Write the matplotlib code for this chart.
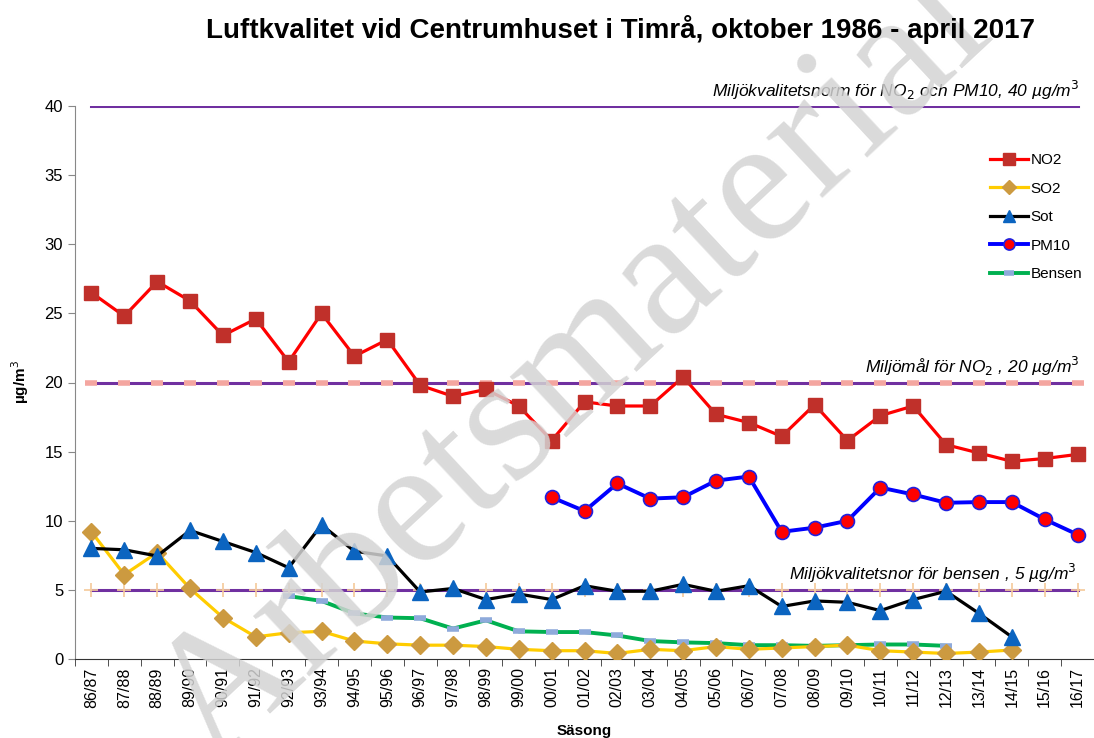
import matplotlib
matplotlib.use("Agg")
import matplotlib.pyplot as plt
import numpy as np

plt.rcParams['font.family'] = ['Liberation Sans', 'DejaVu Sans']

seasons = ["86/87", "87/88", "88/89", "89/90", "90/91", "91/92", "92/93", "93/94", "94/95", "95/96",
           "96/97", "97/98", "98/99", "99/00", "00/01", "01/02", "02/03", "03/04", "04/05", "05/06",
           "06/07", "07/08", "08/09", "09/10", "10/11", "11/12", "12/13", "13/14", "14/15", "15/16", "16/17"]

no2 = [26.5, 24.8, 27.3, 25.9, 23.4, 24.6, 21.5, 25.0, 21.9, 23.1,
       19.8, 19.0, 19.5, 18.3, 15.8, 18.6, 18.3, 18.3, 20.4, 17.7,
       17.1, 16.1, 18.4, 15.8, 17.6, 18.3, 15.5, 14.9, 14.3, 14.5, 14.8]
so2 = [9.2, 6.1, 7.7, 5.1, 3.0, 1.6, 1.9, 2.0, 1.3, 1.1,
       1.0, 1.0, 0.9, 0.7, 0.6, 0.6, 0.4, 0.7, 0.6, 0.9,
       0.7, 0.8, 0.9, 1.0, 0.6, 0.5, 0.4, 0.5, 0.65, None, None]
sot = [8.0, 7.9, 7.45, 9.3, 8.5, 7.7, 6.6, 9.7, 7.8, 7.45,
       4.85, 5.1, 4.3, 4.7, 4.3, 5.3, 4.9, 4.9, 5.4, 4.9,
       5.3, 3.8, 4.2, 4.1, 3.5, 4.3, 4.9, 3.3, 1.6, None, None]
pm10 = [None] * 14 + [11.7, 10.7, 12.7, 11.6, 11.7, 12.9, 13.2, 9.2, 9.5, 10.0,
                      12.4, 11.9, 11.3, 11.35, 11.35, 10.1, 9.0]
bensen = [None] * 6 + [4.55, 4.2, 3.3, 3.0, 2.95, 2.2, 2.8, 2.0, 1.95, 1.95,
                       1.7, 1.3, 1.2, 1.15, 1.0, 1.0, 0.95, 1.0, 1.05, 1.05, 0.95,
                       None, None, None, None]

norm_no2_pm10 = 40
mal_no2 = 20
norm_bensen = 5

def arr(v):
    return np.array([np.nan if a is None else a for a in v], dtype=float)

x = np.arange(len(seasons))

fig = plt.figure(figsize=(10.94, 7.38), dpi=100)
ax = fig.add_axes([75 / 1094, 1 - 659 / 738, 1019 / 1094, (659 - 106) / 738])

# watermark
fig.text(0.525, 0.5, 'Arbetsmaterial', fontsize=130, family='Liberation Serif', color='#d4d4d4',
         alpha=0.85, rotation=43, ha='center', va='center', zorder=0)
ax.set_facecolor('none')

purple = '#7030a0'
# reference lines
ax.plot(x, [norm_no2_pm10] * len(x), color=purple, lw=2.2, zorder=2)
ax.plot(x, [mal_no2] * len(x), color=purple, lw=2.2, marker='_', ms=9, mew=4,
        mec='#f4a6a0', zorder=2)
ax.plot(x, [norm_bensen] * len(x), color=purple, lw=2.2, marker='+', ms=10, mew=1.2,
        mec='#f5c99a', zorder=2)

ax.plot(x, arr(no2), color='#ff0000', lw=2.3, marker='s', ms=10, mfc='#c0302a', mec='#c0302a',
        label='NO2', zorder=5)
ax.plot(x, arr(so2), color='#ffcc00', lw=2.3, marker='D', ms=9.5, mfc='#cc9a40', mec='#cc9a40',
        label='SO2', zorder=4)
ax.plot(x, arr(sot), color='black', lw=2.3, marker='^', ms=11, mfc='#0b64c0', mec='#0b64c0',
        label='Sot', zorder=4)
ax.plot(x, arr(pm10), color='#0000ff', lw=2.8, marker='o', ms=10, mfc='#ff0000', mec='#2020e0',
        mew=1.2, label='PM10', zorder=5)
ax.plot(x, arr(bensen), color='#00b050', lw=2.8, marker='_', ms=9, mew=4, mec='#8eaadb',
        label='Bensen', zorder=3)

ax.set_xlim(-0.5, len(x) - 0.5)
ax.set_ylim(0, 40)
ax.set_yticks(range(0, 41, 5))
ax.set_xticks(x)
ax.set_xticklabels(seasons, rotation=90, fontsize=11.5)
ax.set_xticks(np.arange(-0.5, len(x), 1), minor=True)
ax.tick_params(axis='x', which='major', length=0, pad=6)
ax.tick_params(axis='x', which='minor', length=5, color='#333333')
ax.tick_params(axis='y', labelsize=12, length=5, color='#888888')
for s in ['top', 'right']:
    ax.spines[s].set_visible(False)
ax.spines['left'].set_color('#888888')
ax.spines['bottom'].set_color('#333333')

ax.set_ylabel('µg/m$^3$', fontsize=11, fontweight='bold', labelpad=10)
ax.set_xlabel('Säsong', fontsize=11, fontweight='bold', labelpad=12)

ax.text(30.05, 40.3, 'Miljökvalitetsnorm för NO$_2$ och PM10, 40 µg/m$^3$', ha='right', va='bottom',
        fontsize=12.5, style='italic')
ax.text(30.05, 20.3, 'Miljömål för NO$_2$ , 20 µg/m$^3$', ha='right', va='bottom',
        fontsize=12.5, style='italic')
ax.text(29.95, 5.35, 'Miljökvalitetsnor för bensen , 5 µg/m$^3$', ha='right', va='bottom',
        fontsize=12.5, style='italic')

leg = ax.legend(loc='upper left', bbox_to_anchor=((990 - 75) / 1019, (659 - 153) / 553),
                frameon=False, fontsize=11, handlelength=2.5, handletextpad=0.15,
                labelspacing=0.95, markerscale=0.8, borderpad=0, borderaxespad=0)

fig.text(620 / 1094, 1 - 30 / 738, 'Luftkvalitet vid Centrumhuset i Timrå, oktober 1986 - april 2017',
         ha='center', va='center', fontsize=20, fontweight='bold')

fig.savefig('out.png', dpi=100)
